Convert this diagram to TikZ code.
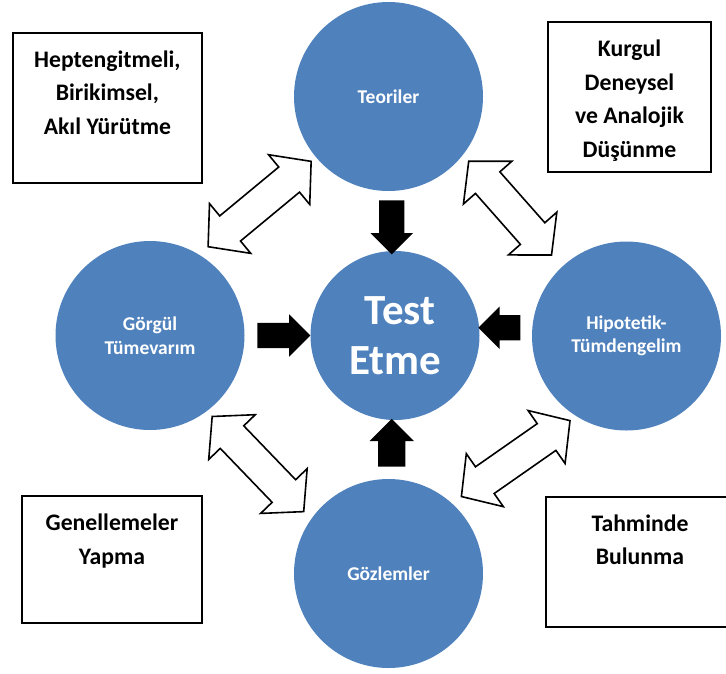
\documentclass[tikz,border=0pt]{standalone}
\usepackage{fontspec}
\setmainfont{Carlito}
\usetikzlibrary{shapes.arrows,positioning,calc}
\definecolor{daire}{HTML}{4F81BD}

\begin{document}
\begin{tikzpicture}[x=1pt,y=-1pt,
  bub/.style={circle,fill=daire,inner sep=0pt,outer sep=0pt,minimum size=189pt,text=white,align=center,font=\fontsize{19.5}{23.5}\selectfont\bfseries},
  kutu/.style={draw,line width=1.8pt,inner sep=0pt},
  kutuyazi/.style={inner sep=0pt,outer sep=0pt,align=center,font=\fontsize{23.7}{33.5}\selectfont\bfseries},
  siyah/.style={single arrow,fill=black,inner ysep=12.5pt,inner xsep=0pt,single arrow head extend=8.5pt,single arrow tip angle=90},
  cift/.style={double arrow,draw,fill=white,line width=1.6pt,inner ysep=15.5pt,inner xsep=0pt,double arrow head extend=16pt,double arrow tip angle=97,sloped}]
 \useasboundingbox (0,0) rectangle (726,673);
 \clip (0,0) rectangle (726,673);
 % daireler
 \node[bub] (teori)  at (388.5,96.5) {Teoriler};
 \node[bub] (gorgul) at (150,335.5)  {Görgül\\Tümevarım};
 \node[bub] (hipo)   at (626.5,336)  {Hipotetik-\\Tümdengelim};
 \node[bub] (gozlem) at (388.5,573.5) {Gözlemler};
 \node[bub,minimum size=169pt,font=\fontsize{43}{50}\selectfont\bfseries] (test) at (395,335.5) {\hspace*{0.23em}Test\\Etme};
 % kutular
 \node[kutu,minimum width=189.3pt,minimum height=150.3pt] (k1) at (107.35,107.85) {};
 \node[kutuyazi,below=19pt of k1.north] (y1) {Heptengitmeli,\\Birikimsel,\\Akıl Yürütme};
 \node[kutu,minimum width=163pt,minimum height=150pt] (k2) at (629.5,97) {};
 \node[kutuyazi,below=19pt of k2.north] (y2) {Kurgul\\Deneysel\\ve Analojik\\Düşünme};
 \node[kutu,minimum width=180.5pt,minimum height=126.6pt] (k3) at (112,559.4) {};
 \node[kutuyazi,below=19pt of k3.north] (y3) {Genellemeler\\Yapma};
 \node[kutu,minimum width=188pt,minimum height=130.6pt] (k4) at (640,562) {};
 \node[kutuyazi,below=19pt of k4.north] (y4) {Tahminde\\Bulunma};
 % siyah oklar
 \node[siyah,rotate=-90,minimum height=54pt] (o1) at ($(teori.south)!0.5!(test.north)$) {};
 \node[siyah,minimum height=53pt] (o2) at ($(gorgul.east)!0.5!(test.west)$) {};
 \node[siyah,rotate=180,minimum height=42pt] (o3) at ($(hipo.west)!0.5!(test.east)+(0,-8)$) {};
 \node[siyah,rotate=90,minimum height=47.7pt,inner ysep=13.5pt] (o4) at ($(gozlem.north)!0.5!(test.south)$) {};
 % cift yonlu oklar
 \path (gorgul.59) -- node[cift,pos=0.519,minimum height=133.8pt] (c1) {} (teori.220);
 \path (teori.322) -- node[cift,pos=0.476,minimum height=125.1pt] (c2) {} (hipo.133);
 \path (gorgul.307) -- node[cift,pos=0.49,minimum height=132pt] (c3) {} (gozlem.145);
 \path (gozlem.48) -- node[cift,pos=0.513,minimum height=132.5pt] (c4) {} (hipo.238);
\end{tikzpicture}
\end{document}
